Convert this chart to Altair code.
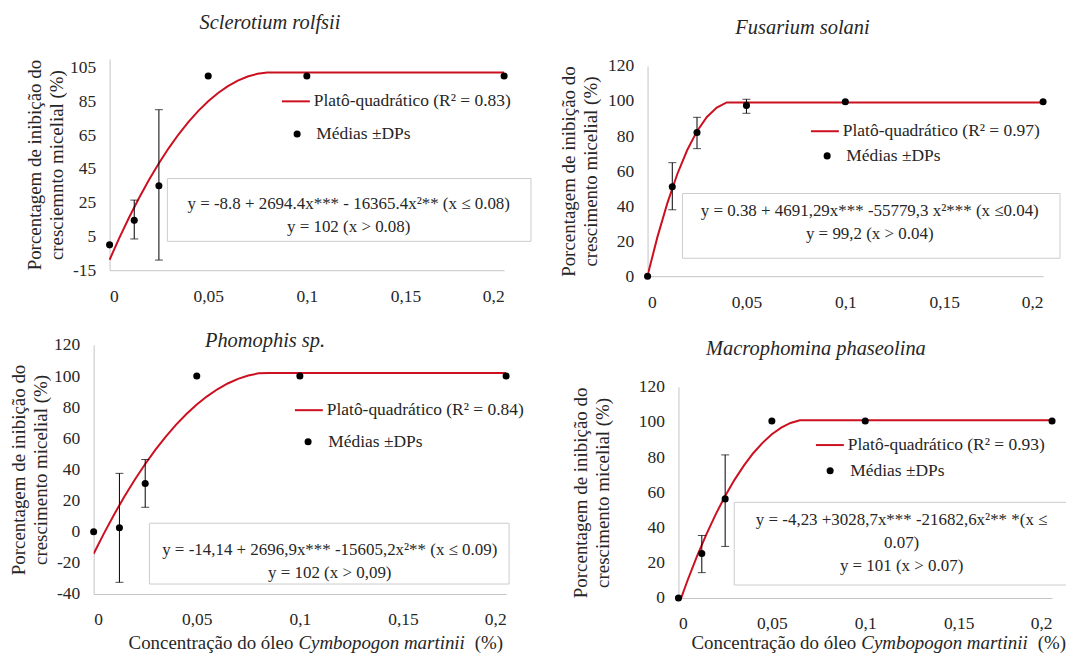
import altair as alt
import pandas as pd

FONT = "Liberation Serif"
RED = "#cc1020"
TXT = "#262626"
AXC = "#c4c4c4"
BOXC = "#cccccc"

# ---------------- data ----------------
conc = [0, 0.0125, 0.025, 0.05, 0.1, 0.2]
x_ticks = [0, 0.05, 0.1, 0.15, 0.2]
pts_label = "Médias ±DPs"

# Sclerotium rolfsii
scl_mean = [0, 14.5, 35, 100, 100, 100]
scl_sd_x = [0.0125, 0.025]
scl_lo = [3.5, -9]
scl_hi = [26.5, 80]
scl_fit_x = [0, 0.005, 0.01, 0.015, 0.02, 0.025, 0.03, 0.035, 0.04, 0.045,
             0.05, 0.055, 0.06, 0.065, 0.07, 0.075, 0.08, 0.2]
scl_fit_y = [-8.8, 4.26, 16.51, 27.93, 38.54, 48.33, 57.30, 65.46, 72.79, 79.31,
             85.01, 89.89, 93.95, 97.19, 99.62, 101.22, 102.0, 102.0]
scl_fit_label = "Platô-quadrático (R² = 0.83)"
scl_eq = ["y = -8.8 + 2694.4x*** - 16365.4x²** (x ≤ 0.08)", "y = 102 (x > 0.08)"]
scl_yticks = [-15, 5, 25, 45, 65, 85, 105]

# Fusarium solani
fus_mean = [0, 51, 82, 97.5, 99.6, 99.6]
fus_sd_x = [0.0125, 0.025, 0.05]
fus_lo = [37.9, 72.8, 93]
fus_hi = [64.8, 90.7, 101]
fus_fit_x = [0, 0.005, 0.01, 0.015, 0.02, 0.025, 0.03, 0.035, 0.04, 0.2]
fus_fit_y = [0.38, 22.44, 41.72, 58.20, 71.89, 82.80, 90.92, 96.25, 99.2, 99.2]
fus_fit_label = "Platô-quadrático (R² = 0.97)"
fus_eq = ["y = 0.38 + 4691,29x*** -55779,3 x²*** (x ≤0.04)", "y = 99,2 (x > 0.04)"]

# Phomophis sp.
pho_mean = [0, 2.5, 31, 100, 100, 100]
pho_sd_x = [0.0125, 0.025]
pho_lo = [-32.5, 15.7]
pho_hi = [37.5, 46.4]
pho_fit_x = [0, 0.005, 0.01, 0.015, 0.02, 0.025, 0.03, 0.035, 0.04, 0.045,
             0.05, 0.055, 0.06, 0.065, 0.07, 0.075, 0.08, 0.085, 0.2]
pho_fit_y = [-14.14, -1.05, 11.27, 22.80, 33.56, 43.53, 52.72, 61.14, 68.77, 75.62,
             81.69, 86.98, 91.50, 95.23, 98.18, 100.35, 101.74, 102.0, 102.0]
pho_fit_label = "Platô-quadrático (R² = 0.84)"
pho_eq = ["y = -14,14 + 2696,9x*** -15605,2x²** (x ≤ 0.09)", "y = 102 (x > 0,09)"]

# Macrophomina phaseolina
mac_mean = [0, 25.3, 56.3, 100.5, 100.5, 100.5]
mac_sd_x = [0.0125, 0.025]
mac_lo = [14.4, 29.3]
mac_hi = [35.5, 81.3]
mac_fit_x = [0, 0.005, 0.01, 0.015, 0.02, 0.025, 0.03, 0.035, 0.04, 0.045,
             0.05, 0.055, 0.06, 0.065, 0.2]
mac_fit_y = [-4.23, 10.37, 23.89, 36.32, 47.67, 57.94, 67.12, 75.21, 82.23, 88.15,
             93.00, 96.76, 99.44, 101.0, 101.0]
mac_fit_label = "Platô-quadrático (R² = 0.93)"
mac_eq = ["y = -4,23 +3028,7x*** -21682,6x²** *(x ≤", "0.07)", "y = 101 (x > 0.07)"]

ytitle_a = ["Porcentagem de inibição do", "cresciemnto micelial  (%)"]
ytitle_b = ["Porcentagem de inibição do", "crescimento micelial  (%)"]
xt_1 = "Concentração do óleo"
xt_2 = "Cymbopogon  martinii"
xt_3 = "(%)"


def panel(title, title_offset, title_dx, mean, sd_x, lo, hi, fit_x, fit_y, fit_label, eq,
          ydom, yrange, yticks, w, h, xrange, yoff, ytitle, tpad, leg, lab_off, box,
          eqpos, xtitle_pos=None, box_open_right=False):
    pts = pd.DataFrame({"x": conc, "y": mean, "lab": [pts_label] * len(conc)})
    err = pd.DataFrame({"x": sd_x, "lo": lo, "hi": hi})
    fit = pd.DataFrame({"x": fit_x, "y": fit_y, "lab": [fit_label] * len(fit_x)})
    one = pd.DataFrame({"k": [0]})

    xs = alt.Scale(domain=[0, 0.2], range=xrange, nice=False, zero=False)
    ys = alt.Scale(domain=ydom, range=yrange, nice=False, zero=False)
    xax = alt.Axis(values=x_ticks, title=None, grid=False, ticks=False, labelPadding=17,
                   labelExpr="replace(toString(datum.value), '.', ',')")
    yax = alt.Axis(values=yticks, title=ytitle, titlePadding=tpad, titleLineHeight=22,
                   grid=False, ticks=False, labelPadding=14, offset=yoff,
                   labelExpr="toString(datum.value)")
    X = lambda f: alt.X(f, type="quantitative", scale=xs, axis=xax)
    Y = lambda f: alt.Y(f, type="quantitative", scale=ys, axis=yax)

    lx, ly, dx, dy = leg
    line = alt.Chart(fit).mark_line(strokeWidth=2, clip=True).encode(
        x=X("x"), y=Y("y"),
        color=alt.Color("lab:N", scale=alt.Scale(domain=[fit_label], range=[RED]),
                        legend=alt.Legend(orient="none", legendX=lx, legendY=ly, title=None,
                                          symbolType="stroke", symbolSize=784,
                                          symbolStrokeWidth=2, labelOffset=3, padding=0,
                                          labelFont=FONT, labelFontSize=17.5,
                                          labelColor=TXT, labelLimit=0)))
    stems = alt.Chart(err).mark_rule(color="black", strokeWidth=1).encode(
        x=X("x"), y=Y("lo"), y2="hi:Q")
    cap_lo = alt.Chart(err).mark_tick(color="black", orient="horizontal", size=8,
                                      thickness=1).encode(x=X("x"), y=Y("lo"))
    cap_hi = alt.Chart(err).mark_tick(color="black", orient="horizontal", size=8,
                                      thickness=1).encode(x=X("x"), y=Y("hi"))
    dots = alt.Chart(pts).mark_point(filled=True, size=50, color="black", opacity=1).encode(
        x=X("x"), y=Y("y"),
        shape=alt.Shape("lab:N", scale=alt.Scale(domain=[pts_label], range=["circle"]),
                        legend=alt.Legend(orient="none", legendX=dx, legendY=dy, title=None,
                                          symbolSize=50, symbolFillColor="black",
                                          symbolStrokeWidth=0, labelOffset=lab_off,
                                          padding=0, labelFont=FONT, labelFontSize=17.5,
                                          labelColor=TXT, labelLimit=0)))
    bx0, bx1, by0, by1 = box
    if box_open_right:
        frame = [
            alt.Chart(one).mark_rule(color=BOXC).encode(x=alt.value(bx0), x2=alt.value(bx1), y=alt.value(by0)),
            alt.Chart(one).mark_rule(color=BOXC).encode(x=alt.value(bx0), x2=alt.value(bx1), y=alt.value(by1)),
            alt.Chart(one).mark_rule(color=BOXC).encode(x=alt.value(bx0), y=alt.value(by0), y2=alt.value(by1)),
        ]
    else:
        frame = [alt.Chart(one).mark_rect(fill="white", fillOpacity=0, stroke=BOXC,
                                          strokeWidth=1).encode(
            x=alt.value(bx0), x2=alt.value(bx1), y=alt.value(by0), y2=alt.value(by1))]
    ex, ey = eqpos
    eqtext = alt.Chart(one).mark_text(text=eq, font=FONT, fontSize=17, color=TXT,
                                      lineHeight=23, align="center",
                                      baseline="middle").encode(
        x=alt.value(ex), y=alt.value(ey))
    layers = frame + [line, stems, cap_lo, cap_hi, dots, eqtext]
    if xtitle_pos is not None:
        cx, cy = xtitle_pos
        start = cx - 188
        layers += [
            alt.Chart(one).mark_text(text=xt_1, font=FONT, fontSize=19, color=TXT,
                                     align="left", baseline="middle").encode(
                x=alt.value(start), y=alt.value(cy)),
            alt.Chart(one).mark_text(text=xt_2, font=FONT, fontSize=19, color=TXT,
                                     fontStyle="italic", align="left",
                                     baseline="middle").encode(
                x=alt.value(start + 170.5), y=alt.value(cy)),
            alt.Chart(one).mark_text(text=xt_3, font=FONT, fontSize=19, color=TXT,
                                     align="right", baseline="middle").encode(
                x=alt.value(cx + 188), y=alt.value(cy)),
        ]
    return alt.layer(*layers).properties(
        width=w, height=h,
        title=alt.TitleParams(text=title, font=FONT, fontSize=20.5, fontStyle="italic",
                              fontWeight="normal", color=TXT, offset=title_offset,
                              anchor="middle", frame="group", dx=title_dx))


p1 = panel("Sclerotium rolfsii", 25, -29, scl_mean, scl_sd_x, scl_lo, scl_hi, scl_fit_x,
           scl_fit_y, scl_fit_label, scl_eq, [-15, 110], [212, 0], scl_yticks, 412, 212,
           [16, 412], -16, ytitle_a, 3, (188, 27.5, 195.5, 66.5), 10.5,
           (74, 439, 120, 183), (256, 146))
p2 = panel("Fusarium solani", 19, -43, fus_mean, fus_sd_x, fus_lo, fus_hi, fus_fit_x,
           fus_fit_y, fus_fit_label, fus_eq, [0, 120], [218, 7],
           [0, 20, 40, 60, 80, 100, 120], 397, 218, [0, 397], 0, ytitle_b, 7,
           (163, 57.5, 171.5, 88.5), 10.5, (35, 414, 135, 200), (223, 153))
p3 = panel("Phomophis sp.", -16, -35, pho_mean, pho_sd_x, pho_lo, pho_hi, pho_fit_x,
           pho_fit_y, pho_fit_label, pho_eq, [-40, 120], [250, 0],
           [-40, -20, 0, 20, 40, 60, 80, 100, 120], 414, 250, [0, 414], 0, ytitle_b, 3,
           (201, 50.5, 206.5, 88.5), 11.5, (56, 417, 179, 240), (237, 206),
           xtitle_pos=(223, 299))
p4 = panel("Macrophomina phaseolina", -15, -49.5, mac_mean, mac_sd_x, mac_lo, mac_hi,
           mac_fit_x, mac_fit_y, mac_fit_label, mac_eq, [0, 120], [254, 42],
           [0, 20, 40, 60, 80, 100, 120], 375, 254, [0, 375], 0, ytitle_b, 26,
           (137, 85.5, 143.5, 117.5), 11.5, (56, 389, 158, 241), (224, 176),
           xtitle_pos=(201, 299), box_open_right=True)

ind = dict(color="independent", shape="independent")
row1 = alt.hconcat(p1, p2, spacing=27).resolve_scale(**ind)
row2 = alt.hconcat(p3, p4, spacing=47).resolve_scale(**ind)
chart = alt.vconcat(row1, row2, spacing=20).resolve_scale(**ind).properties(
    padding={"left": 9, "top": 11, "right": 0, "bottom": 0}, background="white"
).configure_view(stroke=None).configure_axis(
    grid=False, ticks=False, domainColor=AXC, domainWidth=1,
    labelFont=FONT, labelFontSize=17.5, labelColor=TXT,
    titleFont=FONT, titleFontSize=19, titleFontWeight="normal", titleColor=TXT
)

chart.save("out.html", embed_options={"renderer": "svg", "actions": False})
